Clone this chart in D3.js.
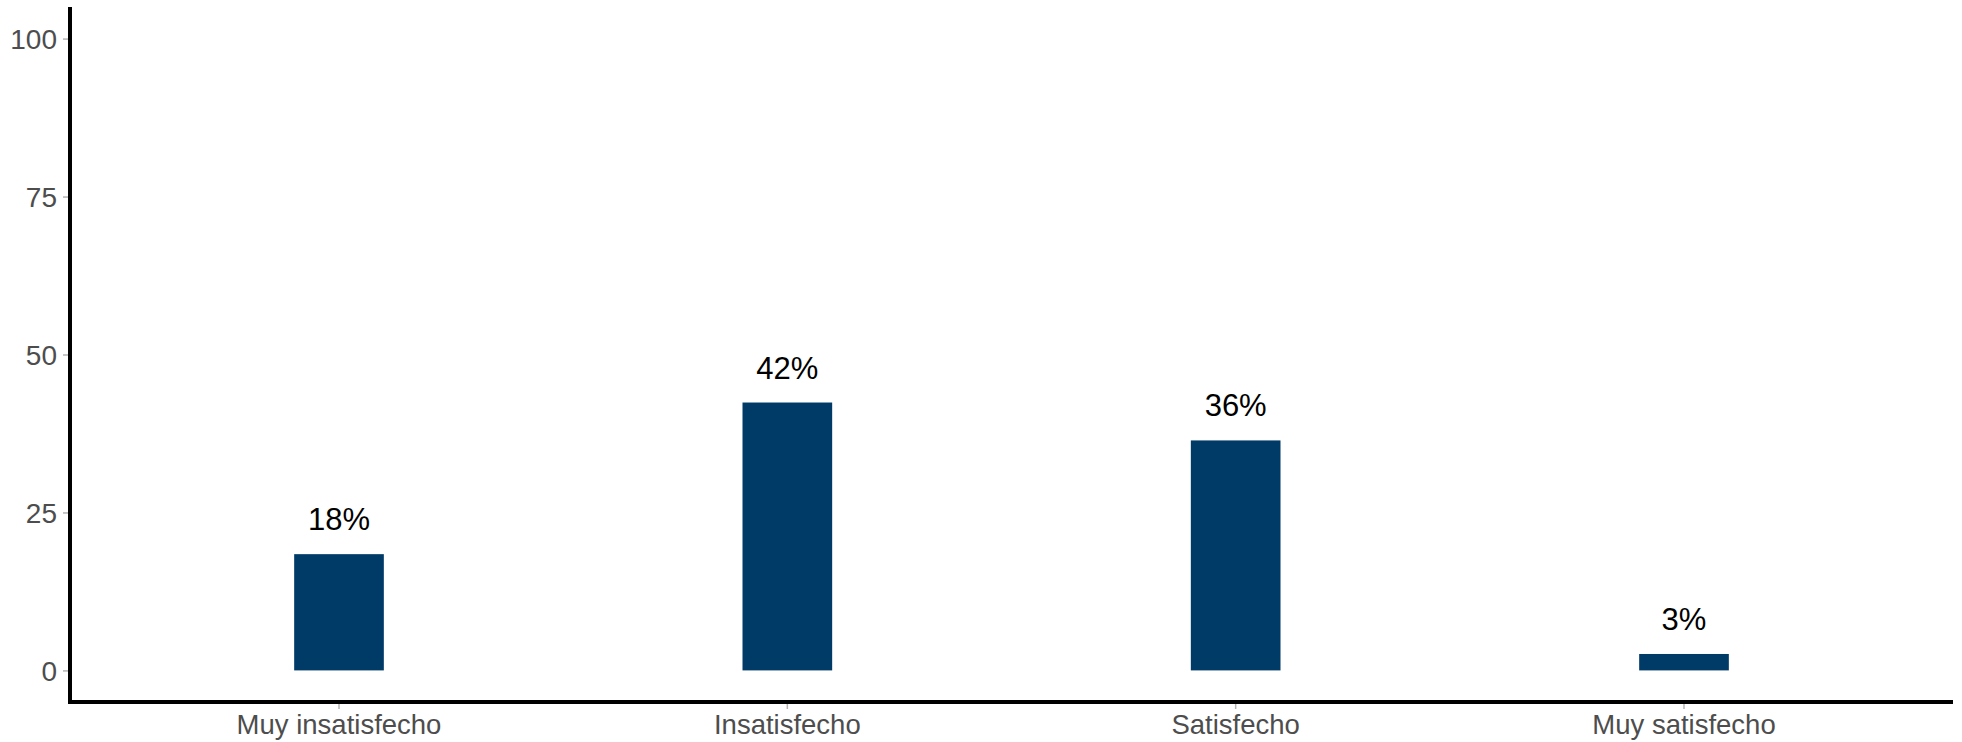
<!DOCTYPE html>
<html><head><meta charset="utf-8">
<script src="https://cdn.jsdelivr.net/npm/d3@7"></script>
<style>body{margin:0;background:#fff}</style>
</head><body>
<svg id="c" width="1962" height="742"></svg>
<script>
const categories = ["Muy insatisfecho","Insatisfecho","Satisfecho","Muy satisfecho"];
const values = [18.4, 42.4, 36.4, 2.6];
const labels = ["18%","42%","36%","3%"];
const yTicks = [0,25,50,75,100];

(function(){
const svg = d3.select("#c");
const mL = 70, mR = 1953, mT = 7, mB = 702;
const font = "Liberation Sans, Arial, sans-serif";

const x = d3.scaleBand().domain(categories).range([mL, mR]).paddingOuter(0.1).paddingInner(0);
const y = d3.scaleLinear().domain([-5,105]).range([mB, mT]);
const bw = x.bandwidth()*0.2;

svg.selectAll("rect.bar").data(values).enter().append("rect")
  .attr("x",(d,i)=>x(categories[i])+x.bandwidth()/2-bw/2)
  .attr("y",d=>y(d)).attr("width",bw).attr("height",d=>y(0)-y(d))
  .attr("fill","#003a66");

svg.selectAll("text.lab").data(values).enter().append("text")
  .attr("x",(d,i)=>x(categories[i])+x.bandwidth()/2)
  .attr("y",d=>y(d)-24)
  .attr("text-anchor","middle")
  .attr("font-family",font)
  .attr("font-size",31).attr("fill","#000")
  .text((d,i)=>labels[i]);

const yAxis = d3.axisLeft(y).tickValues(yTicks).tickSize(5).tickPadding(6);
const gy = svg.append("g").attr("transform",`translate(${mL-2},0)`).call(yAxis);
gy.select(".domain").remove();
gy.selectAll(".tick line").attr("stroke","#b3b3b3").attr("stroke-width",1.5);
gy.selectAll(".tick text").attr("fill","#4d4d4d").attr("font-size",28)
  .attr("font-family",font).attr("dy","0.36em");

const xAxis = d3.axisBottom(x).tickSize(5).tickPadding(6);
const gx = svg.append("g").attr("transform",`translate(0,${mB+2})`).call(xAxis);
gx.select(".domain").remove();
gx.selectAll(".tick line").attr("stroke","#b3b3b3").attr("stroke-width",1.5);
gx.selectAll(".tick text").attr("fill","#4d4d4d").attr("font-size",27.5)
  .attr("font-family",font).attr("y",30).attr("dy",0);

svg.append("line").attr("x1",mL).attr("x2",mL).attr("y1",mT).attr("y2",mB+2)
  .attr("stroke","#000").attr("stroke-width",4);
svg.append("line").attr("x1",mL-2).attr("x2",mR).attr("y1",mB).attr("y2",mB)
  .attr("stroke","#000").attr("stroke-width",4);
})();
</script>
</body></html>
